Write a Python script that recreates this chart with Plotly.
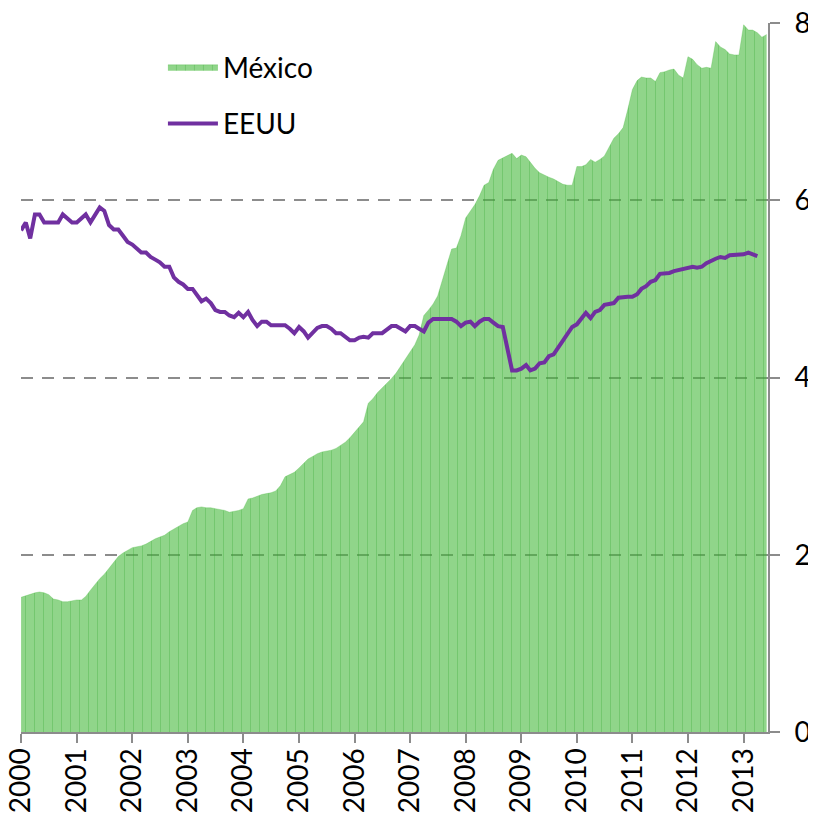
import pandas as pd
import plotly.graph_objects as go

start_month = "2000-01-01"

mexico = [
    1.52, 1.54, 1.55, 1.57, 1.58, 1.57, 1.55, 1.50, 1.49, 1.47, 1.47, 1.48,
    1.49, 1.49, 1.53, 1.60, 1.67, 1.73, 1.78, 1.85, 1.92, 1.98, 2.02, 2.05,
    2.08, 2.09, 2.10, 2.12, 2.15, 2.18, 2.20, 2.22, 2.26, 2.29, 2.32, 2.35,
    2.37, 2.50, 2.53, 2.54, 2.53, 2.53, 2.52, 2.51, 2.50, 2.48, 2.49, 2.50,
    2.52, 2.63, 2.64, 2.66, 2.68, 2.69, 2.70, 2.72, 2.78, 2.88, 2.91, 2.93,
    2.98, 3.03, 3.08, 3.11, 3.14, 3.16, 3.17, 3.18, 3.20, 3.23, 3.27, 3.32,
    3.38, 3.45, 3.50, 3.71, 3.76, 3.83, 3.88, 3.93, 3.99, 4.05, 4.13, 4.21,
    4.28, 4.37, 4.48, 4.70, 4.76, 4.83, 4.92, 5.10, 5.30, 5.45, 5.46, 5.60,
    5.80, 5.88, 5.95, 6.05, 6.17, 6.20, 6.35, 6.45, 6.48, 6.50, 6.53, 6.47,
    6.51, 6.49, 6.43, 6.36, 6.31, 6.28, 6.26, 6.24, 6.21, 6.18, 6.17, 6.17,
    6.38, 6.38, 6.40, 6.46, 6.43, 6.46, 6.50, 6.60, 6.70, 6.75, 6.82, 7.02,
    7.25, 7.35, 7.39, 7.38, 7.38, 7.34, 7.44, 7.45, 7.47, 7.48, 7.41, 7.38,
    7.62, 7.59, 7.53, 7.49, 7.50, 7.49, 7.79, 7.73, 7.70, 7.65, 7.64, 7.64,
    7.98, 7.92, 7.92, 7.89, 7.84, 7.87,
]

eeuu = [
    5.66, 5.75, 5.57, 5.84, 5.84, 5.75, 5.75, 5.75, 5.75, 5.84, 5.80, 5.75,
    5.75, 5.80, 5.84, 5.75, 5.84, 5.92, 5.88, 5.72, 5.67, 5.67, 5.60, 5.53,
    5.50, 5.45, 5.41, 5.41, 5.36, 5.33, 5.30, 5.25, 5.25, 5.13, 5.08, 5.05,
    5.00, 5.00, 4.93, 4.86, 4.89, 4.84, 4.76, 4.74, 4.74, 4.70, 4.68, 4.73,
    4.68, 4.74, 4.65, 4.58, 4.63, 4.63, 4.59, 4.59, 4.59, 4.59, 4.55, 4.50,
    4.57, 4.52, 4.45, 4.50, 4.56, 4.58, 4.58, 4.55, 4.50, 4.50, 4.46, 4.42,
    4.42, 4.45, 4.46, 4.45, 4.50, 4.50, 4.50, 4.54, 4.58, 4.58, 4.55, 4.52,
    4.58, 4.58, 4.55, 4.52, 4.62, 4.66, 4.66, 4.66, 4.66, 4.66, 4.63, 4.58,
    4.62, 4.63, 4.58, 4.63, 4.66, 4.66, 4.62, 4.58, 4.57, 4.30, 4.08, 4.08,
    4.10, 4.14, 4.08, 4.10, 4.16, 4.17, 4.24, 4.26, 4.34, 4.42, 4.51, 4.57,
    4.60, 4.66, 4.73, 4.67, 4.74, 4.76, 4.82, 4.83, 4.84, 4.90, 4.91, 4.91,
    4.91, 4.94, 5.00, 5.03, 5.08, 5.10, 5.17, 5.17, 5.18, 5.20, 5.21, 5.22,
    5.23, 5.25, 5.24, 5.25, 5.29, 5.32, 5.34, 5.36, 5.35, 5.38, 5.38, 5.38,
    5.39, 5.41, 5.39, 5.37,
]

months = pd.date_range(start_month, periods=len(mexico), freq="MS")
y_ticks = [0, 2, 4, 6, 8]

FONT = "Lato"
GRAY = "#8c8c8c"
GREEN = "rgba(70,185,60,0.6)"

fig = go.Figure()
fig.add_trace(go.Scatter(
    x=months, y=mexico, name="México", mode="lines",
    line=dict(color=GREEN, width=0.5),
    fill="tozeroy",
    fillcolor=GREEN,
    fillpattern=dict(shape="|", size=9, solidity=0.1,
                     fgcolor="rgba(40,160,40,0.6)",
                     bgcolor=GREEN),
    showlegend=True,
    legend="legend",
))
fig.add_trace(go.Scatter(
    x=months[:len(eeuu)], y=eeuu, name="EEUU", mode="lines",
    line=dict(color="#7030A0", width=4),
    showlegend=True,
    legend="legend2",
))

# the page body has an 8px margin, so the figure is sized/offset to fit
fig.update_layout(
    width=808, height=811,
    margin=dict(l=13, r=48, t=15, b=87),
    paper_bgcolor="white", plot_bgcolor="white",
    font=dict(family=FONT, size=28, color="black"),
    showlegend=True,
    legend=dict(x=0.19, y=0.973, xanchor="left", yanchor="top",
                bgcolor="rgba(0,0,0,0)", itemwidth=50,
                font=dict(family=FONT, size=28), visible=True),
    legend2=dict(x=0.19, y=0.893, xanchor="left", yanchor="top",
                 bgcolor="rgba(0,0,0,0)", itemwidth=50,
                 font=dict(family=FONT, size=28), visible=True),
)
fig.update_xaxes(
    type="date",
    range=["1999-12-31 12:00", "2013-06-10"],
    tick0="2000-01-01", dtick="M12", tickformat="%Y",
    tickangle=-90,
    ticks="outside", ticklen=9, tickwidth=2, tickcolor=GRAY,
    showline=True, linecolor=GRAY, linewidth=2,
    showgrid=False, zeroline=False,
    tickfont=dict(family=FONT, size=28),
    ticklabelstandoff=-6,
    ticklabeloverflow="allow",
    automargin=False,
)
fig.update_yaxes(
    side="right",
    range=[0, 8],
    tickvals=y_ticks,
    ticks="outside", ticklen=10, tickwidth=2, tickcolor=GRAY,
    showline=True, linecolor=GRAY, linewidth=2,
    showgrid=True, gridcolor=GRAY, gridwidth=2, griddash="12px,9px",
    zeroline=False,
    tickfont=dict(family=FONT, size=28),
    ticklabelstandoff=9,
    ticklabeloverflow="allow",
    automargin=False,
)

fig.write_html("out.html")
